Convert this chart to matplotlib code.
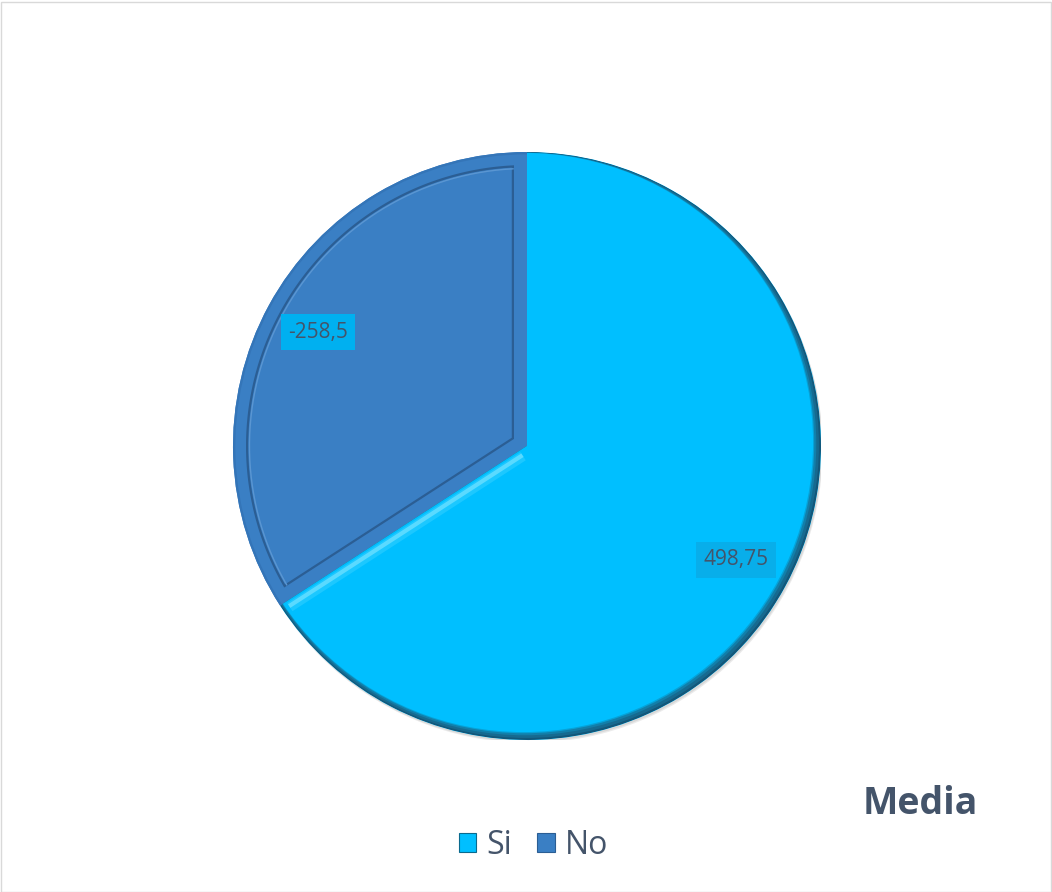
import numpy as np
import matplotlib
matplotlib.use("Agg")
import matplotlib.pyplot as plt
from matplotlib.patches import Wedge, Polygon, Rectangle, Patch, Circle

# ---- data ----
categories = ["Si", "No"]
values = [498.75, -258.5]
label_texts = ["498,75", "-258,5"]
title = "Media"

colors = ["#00BFFF", "#3A7FC4"]
text_color = "#44546A"
plt.rcParams['font.family'] = ['Open Sans', 'DejaVu Sans']

W, H = 1052, 892
fig = plt.figure(figsize=(W / 100, H / 100), dpi=100)
fig.patch.set_facecolor("white")

cx, cy, R = 527, 446, 294
ax = fig.add_axes([(cx - R) / W, 1 - (cy + R) / H, 2 * R / W, 2 * R / H])
ax.set_aspect("equal")
ax.axis("off")

# faint shadow
ax.add_patch(Circle((0.006, -0.01), 1.0, facecolor="#000000", alpha=0.08, linewidth=0, zorder=0))
ax.add_patch(Circle((0.004, -0.006), 1.0, facecolor="#000000", alpha=0.08, linewidth=0, zorder=0))

sizes = [abs(v) for v in values]
wedges, texts = ax.pie(sizes, colors=colors, startangle=90, counterclock=False,
                       labels=label_texts, labeldistance=0.81, radius=1.0,
                       wedgeprops=dict(linewidth=0),
                       textprops=dict(fontsize=15, color=text_color, ha="center", va="center"))
for t in texts:
    t.set_ha("center")
    t.set_zorder(6)
    t.set_bbox(dict(boxstyle="square,pad=0.35", facecolor="#00B0F0", edgecolor="none"))
texts[0].set_bbox(dict(boxstyle="square,pad=0.35", facecolor="#08AEEA", edgecolor="none"))

# --- bevel decoration for Si wedge: dark crescent rim lit from upper-left ---
si = wedges[0]
t1, t2 = si.theta1, si.theta2
layers = [((0.0, 0.0), 1.0, "#13577A"),
          ((-0.003, 0.003), 0.996, "#166A90"),
          ((-0.007, 0.007), 0.991, "#127FAA"),
          ((-0.010, 0.010), 0.987, "#06A2D8"),
          ((-0.012, 0.012), 0.985, colors[0])]
for (ox, oy), r, c in layers:
    p = Circle((ox, oy), r, facecolor=c, linewidth=0, zorder=2)
    ax.add_patch(p)
    p.set_clip_path(si)

# highlight strip along Si's lower radial edge
ra = np.radians(t1)
n = -np.array([np.sin(ra), -np.cos(ra)])
u = np.array([np.cos(ra), np.sin(ra)])
for d, lw, c in [(0.022, 7, "#1CC8FF"), (0.018, 3, "#5ADAFF")]:
    p0 = n * d + u * 0.03
    p1 = n * d + u * 0.975
    ax.plot([p0[0], p1[0]], [p0[1], p1[1]], color=c, lw=lw, solid_capstyle="butt", zorder=3)

# --- inset bevel line for No wedge ---
no = wedges[1]
a1d, a2d = no.theta1, no.theta2
half = np.radians((a2d - a1d) / 2)
mid = np.radians((a1d + a2d) / 2)
dd = 0.048
rr = 1.0 - dd
v = np.array([np.cos(mid), np.sin(mid)]) * dd / np.sin(half)
delta = np.degrees(np.arcsin(dd / rr))
arc = np.radians(np.linspace(a1d + delta, a2d - delta, 200))
pts = np.vstack([v, np.column_stack([rr * np.cos(arc), rr * np.sin(arc)]), v])
ax.add_patch(Polygon(pts, closed=True, fill=False, edgecolor="#2B5E94", lw=1.6, zorder=3))
ax.plot((rr - 0.008) * np.cos(arc), (rr - 0.008) * np.sin(arc), color="#5A96D2", lw=1.0, zorder=3)
ax.add_patch(Wedge((0, 0), 1.0, a1d, a2d, width=0.008, facecolor="#3475B8", linewidth=0, zorder=2))

ax.set_xlim(-1.0, 1.0)
ax.set_ylim(-1.0, 1.0)

# title
fig.text(0.875, 1 - 804 / H, title, fontsize=27, fontweight="bold", color=text_color,
         ha="center", va="center")

# legend
handles = [Patch(facecolor=colors[0], edgecolor="#0A6A8E", lw=0.8),
           Patch(facecolor=colors[1], edgecolor="#2B5E94", lw=0.8)]
fig.legend(handles, categories, loc="center", bbox_to_anchor=(0.507, 1 - 845 / H), ncol=2,
           frameon=False, fontsize=23, labelcolor=text_color, handlelength=0.55, handleheight=0.55,
           handletextpad=0.3, columnspacing=0.8, borderaxespad=0)

# chart border
fig.add_artist(Rectangle((0.5 / W, 0.5 / H), 1 - 2 / W, 1 - 2 / H, transform=fig.transFigure,
                         fill=False, edgecolor="#D9D9D9", lw=1))

fig.savefig("out.png", dpi=100)
